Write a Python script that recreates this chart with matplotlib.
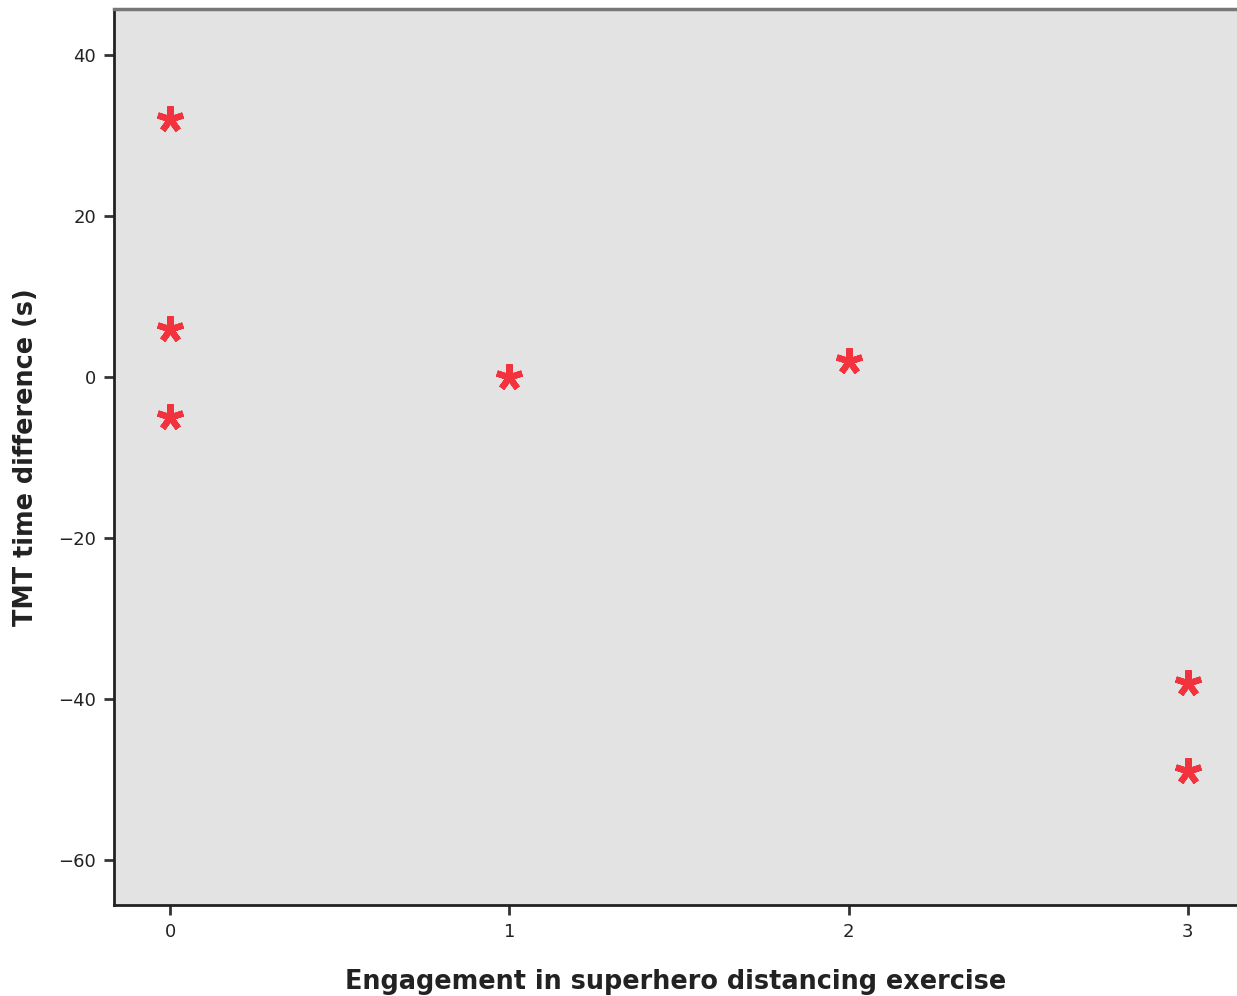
import matplotlib.pyplot as plt

engagement = [0, 0, 0, 1, 2, 3, 3]
tmt_diff = [32, 6, -5, 0, 2, -38, -49]
x_ticks = [0, 1, 2, 3]
y_ticks = [40, 20, 0, -20, -40, -60]

fig = plt.figure(figsize=(12.37, 9.96), dpi=100)
ax = fig.add_axes([0.0922, 0.0914, 0.9078, 0.8996])
ax.set_facecolor("#e3e3e3")

ax.plot(engagement, tmt_diff, linestyle="none", marker=(5, 2, 0),
        markersize=19, markeredgewidth=4.5, color="#f2323c")

ax.set_xlim(-0.165, 3.145)
ax.set_ylim(-65.6, 45.7)
ax.set_xticks(x_ticks)
ax.set_yticks(y_ticks)
ax.set_yticklabels(["40", "20", "0", "\u221220", "\u221240", "\u221260"])

for side in ["left", "bottom"]:
    ax.spines[side].set_linewidth(2)
    ax.spines[side].set_color("#222222")
ax.spines["top"].set_linewidth(2.5)
ax.spines["top"].set_color("#777777")
ax.spines["right"].set_visible(False)

ax.tick_params(axis="both", direction="out", length=7, width=2,
               color="#333333", labelsize=13, labelcolor="#222222", pad=6)

ax.set_xlabel("Engagement in superhero distancing exercise", fontsize=18.4,
              fontweight="bold", color="#222222", labelpad=20)
ax.set_ylabel("TMT time difference (s)", fontsize=18.4,
              fontweight="bold", color="#222222", labelpad=14)

fig.savefig("out.png", dpi=100)
